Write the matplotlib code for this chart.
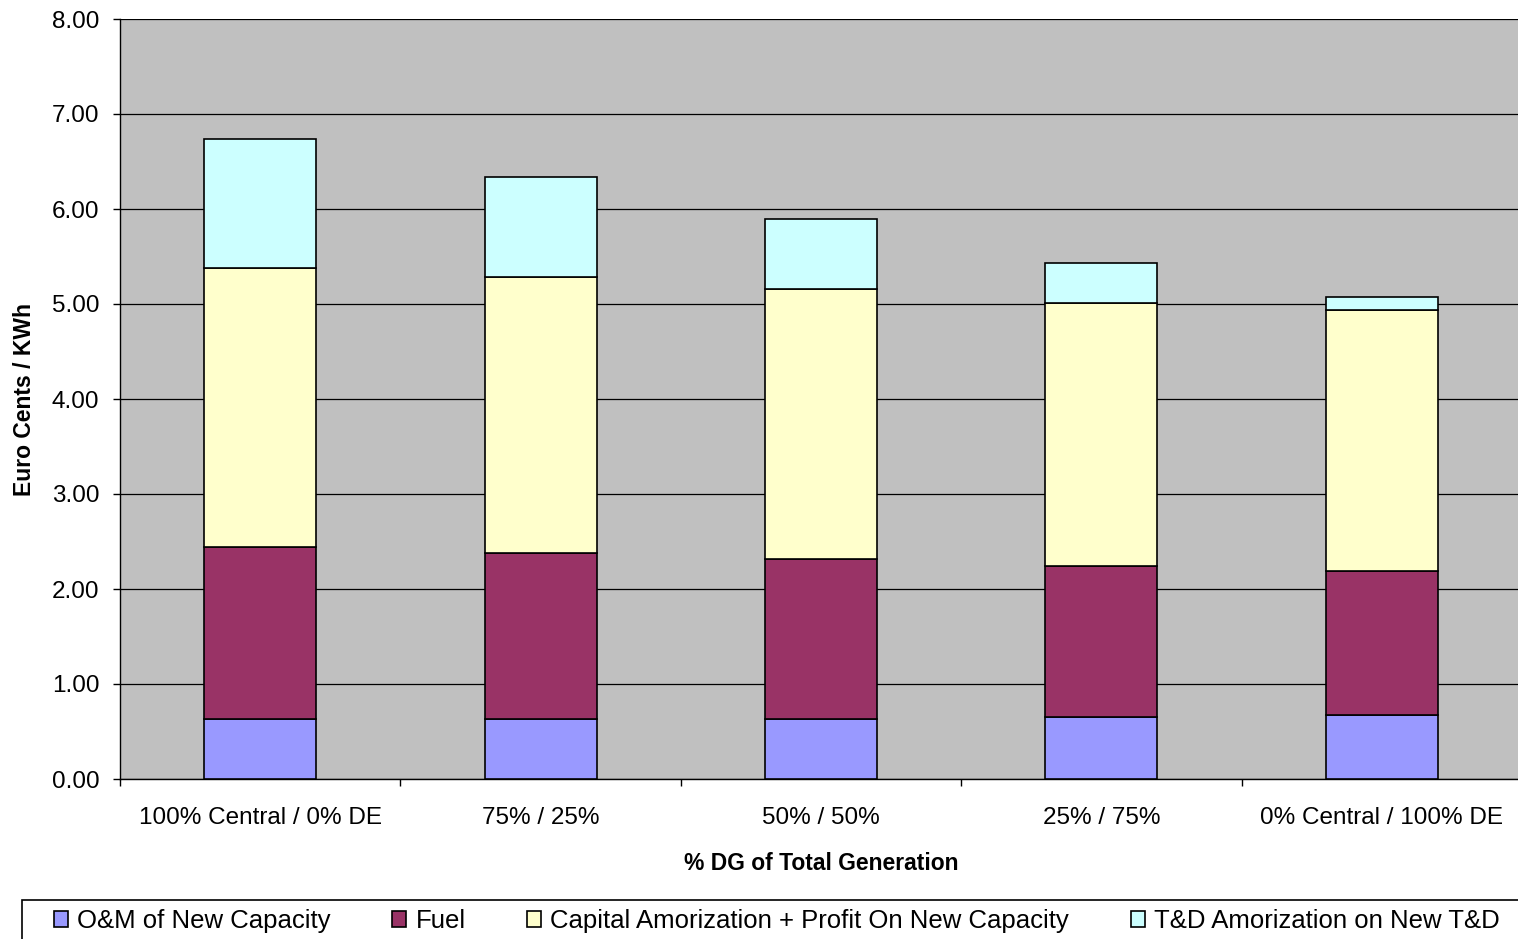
import matplotlib.pyplot as plt
import matplotlib.patches as patches
import numpy as np

plt.rcParams['font.family'] = ['Liberation Sans', 'DejaVu Sans']

categories = ['100% Central / 0% DE', '75% / 25%', '50% / 50%', '25% / 75%', '0% Central / 100% DE']
series_names = ['O&M of New Capacity', 'Fuel',
                'Capital Amorization + Profit On New Capacity', 'T&D Amorization on New T&D']
om = [0.63, 0.63, 0.63, 0.65, 0.67]
fuel = [1.81, 1.75, 1.69, 1.59, 1.52]
capital = [2.94, 2.90, 2.84, 2.77, 2.75]
td = [1.36, 1.06, 0.73, 0.42, 0.13]
colors = ['#9999FF', '#993366', '#FFFFCC', '#CCFFFF']

fig = plt.figure(figsize=(15.18, 9.39), dpi=100)
ax = fig.add_axes([120 / 1518, 1 - 779 / 939, 1402 / 1518, 760 / 939])
ax.set_facecolor('#C0C0C0')

x = np.arange(len(categories))
bottom = np.zeros(len(categories))
for name, vals, c in zip(series_names, [om, fuel, capital, td], colors):
    ax.bar(x, vals, 0.4, bottom=bottom, color=c, edgecolor='black',
           linewidth=1.2, label=name, zorder=3)
    bottom += np.array(vals)

ax.set_xlim(-0.5, 4.5)
ax.set_ylim(0, 8)
ax.set_yticks(np.arange(0, 8.01, 1))
ax.set_yticklabels(['%.2f' % v for v in np.arange(0, 8.01, 1)])
ax.yaxis.grid(True, color='black', linewidth=0.9, zorder=0)
ax.set_axisbelow(True)

ax.set_xticks(x)
ax.set_xticklabels(categories)
ax.set_xticks(np.arange(-0.5, 4.6, 1), minor=True)
ax.tick_params(axis='x', which='major', length=0, pad=20.5, labelsize=17.5)
ax.tick_params(axis='x', which='minor', length=5, width=1, direction='out')
ax.tick_params(axis='y', length=5, width=1, pad=10, labelsize=17.5)

for s in ['top', 'right']:
    ax.spines[s].set_visible(False)
for s in ['left', 'bottom']:
    ax.spines[s].set_color('black')
    ax.spines[s].set_linewidth(1)

ax.set_xlabel('% DG of Total Generation', fontsize=16.5, fontweight='bold', labelpad=16)
ax.set_ylabel('Euro Cents / KWh', fontsize=16.5, fontweight='bold', labelpad=11)

# legend box (cut off at bottom edge, as in the reference)
frame = patches.Rectangle((22 / 1518, -0.05), 1.05, 0.05 + 1 - 900 / 939,
                          transform=fig.transFigure, facecolor='white',
                          edgecolor='black', linewidth=1.2, zorder=0)
fig.patches.append(frame)
handles, labels = ax.get_legend_handles_labels()
fig.legend(handles, labels, ncol=4, frameon=False, loc='center left',
           bbox_to_anchor=(54 / 1518, 1 - 921 / 939), fontsize=18.5,
           handlelength=0.55, handleheight=0.55, handletextpad=0.35,
           columnspacing=2.4, borderpad=0, borderaxespad=0)

fig.savefig('out.png', dpi=100)
